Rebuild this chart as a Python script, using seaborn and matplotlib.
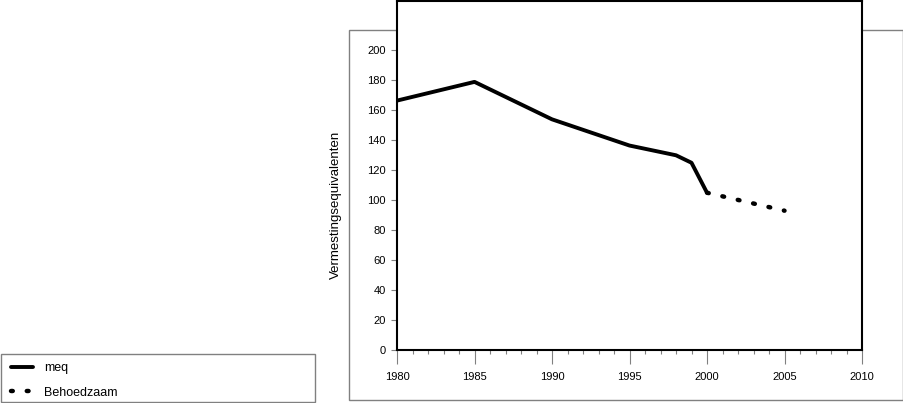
import seaborn as sns
import pandas as pd
import matplotlib.pyplot as plt
from matplotlib.patches import Rectangle
from matplotlib.ticker import MultipleLocator

sns.set_style("white")
plt.rcParams["font.family"] = ["Liberation Sans", "DejaVu Sans"]
plt.rcParams["font.size"] = 8
plt.rcParams["text.color"] = "black"
plt.rcParams["axes.labelcolor"] = "black"
plt.rcParams["xtick.labelcolor"] = "black"
plt.rcParams["ytick.labelcolor"] = "black"

# data
meq_years = [1980, 1985, 1990, 1995, 1998, 1999, 2000]
meq_values = [166.5, 179, 154, 136.5, 130, 125, 105]
behoedzaam_years = [2000, 2005]
behoedzaam_values = [105, 93]

meq = pd.DataFrame({"jaar": meq_years, "waarde": meq_values})
behoedzaam = pd.DataFrame({"jaar": behoedzaam_years, "waarde": behoedzaam_values})

fig = plt.figure(figsize=(9.04, 4.03), dpi=100)
ax = fig.add_axes([397 / 904, 53 / 403, 465 / 904, 349 / 403])

# grey outer frame behind the plot, and the legend box
fig.patches.append(Rectangle((349 / 904, 3 / 403), 554 / 904, 370 / 403,
                             transform=fig.transFigure, fill=False,
                             edgecolor="#808080", linewidth=1, zorder=-1))
fig.patches.append(Rectangle((0.5 / 904, 1 / 403), 314.5 / 904, 48 / 403,
                             transform=fig.transFigure, fill=False,
                             edgecolor="#808080", linewidth=1, zorder=-1))

sns.lineplot(data=meq, x="jaar", y="waarde", ax=ax, color="black",
             linewidth=2.8, label="meq")
sns.lineplot(data=behoedzaam, x="jaar", y="waarde", ax=ax, color="black",
             linewidth=3.2, label="Behoedzaam")
ax.lines[1].set_linestyle((0, (0.4, 3.15)))
ax.lines[1].set_dash_capstyle("round")

ax.set_xlim(1980, 2010)
ax.set_ylim(0, 233)
ax.set_yticks(range(0, 201, 20))
ax.xaxis.set_major_locator(MultipleLocator(5))
ax.xaxis.set_minor_locator(MultipleLocator(1))
ax.tick_params(axis="x", which="major", direction="out", length=10, width=0.8,
               color="#808080", pad=6, bottom=True)
ax.tick_params(axis="x", which="minor", direction="out", length=3, width=0.8,
               color="#808080", bottom=True)
ax.tick_params(axis="y", which="major", direction="out", length=4, width=0.8,
               color="#808080", pad=4, left=True)
ax.set_xlabel("")
ax.set_ylabel("Vermestingsequivalenten", fontsize=9.5)
ax.yaxis.set_label_coords(-0.118, 0.415)
for s in ax.spines.values():
    s.set_color("black")
    s.set_linewidth(1.5)

ax.get_legend().remove()
handles, labels = ax.get_legend_handles_labels()
leg = fig.legend(handles, labels, loc="upper left",
                 bbox_to_anchor=(11 / 904, (403 - 362) / 403),
                 frameon=False, borderpad=0, borderaxespad=0,
                 handlelength=1.8, handletextpad=0.85, labelspacing=1.0,
                 fontsize=9)

fig.savefig("out.png", dpi=100)
